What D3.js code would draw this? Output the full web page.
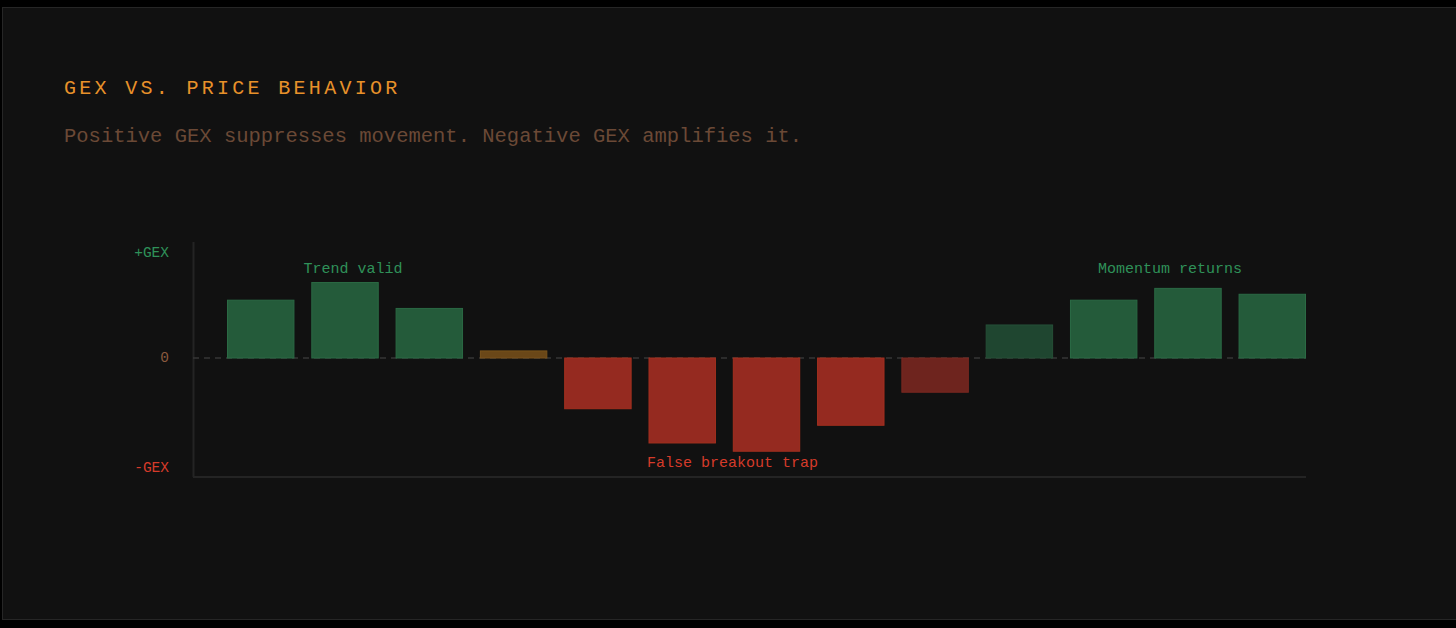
<!DOCTYPE html>
<html><head><meta charset="utf-8">
<script src="https://cdn.jsdelivr.net/npm/d3@7"></script>
<style>
html,body{margin:0;padding:0;background:#000;}
svg{display:block;}
text{font-family:"Liberation Mono","DejaVu Sans Mono",monospace;}
</style></head>
<body>
<svg id="c" width="1456" height="628"></svg>
<script>
// ---- data ----
const categories = ["P1","P2","P3","P4","P5","P6","P7","P8","P9","P10","P11","P12","P13"];
const gexValues = [49, 64, 42, 6, -43, -72, -79, -57, -29, 28, 49, 59, 54];
const barKinds = ["pos","pos","pos","flat","neg","neg","neg","neg","negFade","posFade","pos","pos","pos"];
const yTickValues = [100, 0, -100];
const yTickLabels = ["+GEX", "0", "-GEX"];
const annotations = [
  {text:"Trend valid", bar:1, dx:8, value:100, kind:"pos"},
  {text:"False breakout trap", bar:6, dx:-34, value:-100, kind:"neg"},
  {text:"Momentum returns", bar:11, dx:-18, value:100, kind:"pos"}
];
const titleText = "GEX VS. PRICE BEHAVIOR";
const subtitleText = "Positive GEX suppresses movement. Negative GEX amplifies it.";

// ---- styles ----
const fills = {pos:"#245b3a", posFade:"#1f4630", flat:"#6a4718", neg:"#952a20", negFade:"#6e241e"};
const strokes = {pos:"#2b6a44", posFade:"#264f37", flat:"#7a531c", neg:"#a5301f", negFade:"#7b2820"};
const textColors = {pos:"#2f9159", neg:"#d63b2a", zero:"#8a5a3e"};

const svg = d3.select("#c");
svg.append("rect").attr("x",2.5).attr("y",7.5).attr("width",1470).attr("height",612)
  .attr("fill","#111111").attr("stroke","#262626").attr("stroke-width",1);

svg.append("text").attr("x",64).attr("y",94).text(titleText)
  .attr("fill","#e8912a").attr("font-size",20).attr("letter-spacing",3.3);
svg.append("text").attr("x",64).attr("y",142).text(subtitleText)
  .attr("fill","#6b4936").attr("font-size",20.5);

const plot = {left:193, right:1306, top:242, bottom:477};
const x = d3.scaleBand().domain(categories).range([227, plot.right]).paddingInner(0.2).paddingOuter(0);
const y = d3.scaleLinear().domain([-100, 100]).range([476, 240]);

// axes lines
const yAxis = d3.axisLeft(y).tickValues([]).tickSize(0);
svg.append("g").attr("transform",`translate(${plot.left},0)`).call(yAxis)
  .call(g=>g.select(".domain").attr("d",`M0.5,${plot.top}V${plot.bottom}`).attr("stroke","#242424").attr("stroke-width",2));
svg.append("line").attr("x1",plot.left).attr("x2",plot.right).attr("y1",plot.bottom).attr("y2",plot.bottom)
  .attr("stroke","#242424").attr("stroke-width",2);

// zero line
svg.append("line").attr("x1",plot.left).attr("x2",plot.right).attr("y1",y(0)).attr("y2",y(0))
  .attr("stroke","#363636").attr("stroke-width",1.5).attr("stroke-dasharray","6,5");

// y labels
const labelKinds = ["pos","zero","neg"];
svg.selectAll(".ylab").data(yTickValues).join("text")
  .attr("x",169).attr("text-anchor","end").attr("dominant-baseline","central")
  .attr("y",(d,i)=> i===1 ? y(d) : y(d) + (i===0 ? 13 : -8))
  .attr("font-size",14.5).attr("fill",(d,i)=>textColors[labelKinds[i]])
  .text((d,i)=>yTickLabels[i]);

// bars
svg.selectAll(".bar").data(gexValues).join("rect")
  .attr("x",(d,i)=>x(categories[i])+0.5)
  .attr("width",x.bandwidth()-1)
  .attr("y",d=>Math.min(y(d),y(0)))
  .attr("height",d=>Math.abs(y(d)-y(0)))
  .attr("fill",(d,i)=>fills[barKinds[i]])
  .attr("stroke",(d,i)=>strokes[barKinds[i]]).attr("stroke-width",1);

// annotations
svg.selectAll(".ann").data(annotations).join("text")
  .attr("x",d=>x(categories[d.bar])+x.bandwidth()/2+d.dx)
  .attr("y",d=> d.value>0 ? y(d.value)+29 : y(d.value)-13)
  .attr("text-anchor","middle").attr("dominant-baseline","central")
  .attr("font-size",15).attr("fill",d=>textColors[d.kind])
  .text(d=>d.text);
</script>
</body></html>
